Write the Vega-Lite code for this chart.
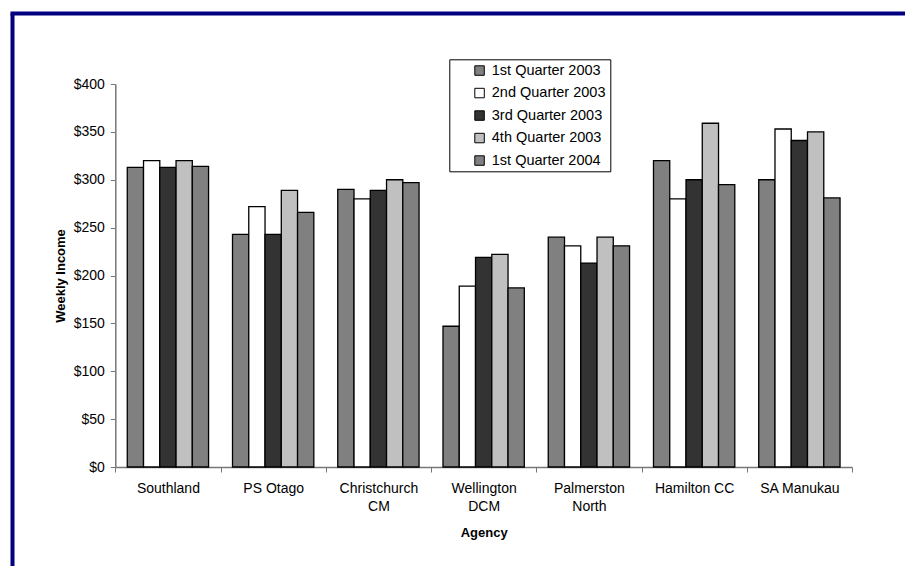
{
  "$schema": "https://vega.github.io/schema/vega-lite/v6.json",
  "autosize": {"type": "none"},
  "padding": {"left": 12, "top": 13, "right": 0, "bottom": 0},
  "width": 893,
  "height": 553,
  "background": "white",
  "view": {"stroke": null, "fill": "white"},
  "config": {
    "font": "Liberation Sans",
    "axis": {"labelFont": "Liberation Sans", "titleFont": "Liberation Sans", "labelColor": "black", "titleColor": "black"}
  },
  "data": {
    "values": [
      {"agency": "Southland", "quarter": "1st Quarter 2003", "income": 313},
      {"agency": "Southland", "quarter": "2nd Quarter 2003", "income": 320},
      {"agency": "Southland", "quarter": "3rd Quarter 2003", "income": 313},
      {"agency": "Southland", "quarter": "4th Quarter 2003", "income": 320},
      {"agency": "Southland", "quarter": "1st Quarter 2004", "income": 314},
      {"agency": "PS Otago", "quarter": "1st Quarter 2003", "income": 243},
      {"agency": "PS Otago", "quarter": "2nd Quarter 2003", "income": 272},
      {"agency": "PS Otago", "quarter": "3rd Quarter 2003", "income": 243},
      {"agency": "PS Otago", "quarter": "4th Quarter 2003", "income": 289},
      {"agency": "PS Otago", "quarter": "1st Quarter 2004", "income": 266},
      {"agency": "Christchurch CM", "quarter": "1st Quarter 2003", "income": 290},
      {"agency": "Christchurch CM", "quarter": "2nd Quarter 2003", "income": 280},
      {"agency": "Christchurch CM", "quarter": "3rd Quarter 2003", "income": 289},
      {"agency": "Christchurch CM", "quarter": "4th Quarter 2003", "income": 300},
      {"agency": "Christchurch CM", "quarter": "1st Quarter 2004", "income": 297},
      {"agency": "Wellington DCM", "quarter": "1st Quarter 2003", "income": 147},
      {"agency": "Wellington DCM", "quarter": "2nd Quarter 2003", "income": 189},
      {"agency": "Wellington DCM", "quarter": "3rd Quarter 2003", "income": 219},
      {"agency": "Wellington DCM", "quarter": "4th Quarter 2003", "income": 222},
      {"agency": "Wellington DCM", "quarter": "1st Quarter 2004", "income": 187},
      {"agency": "Palmerston North", "quarter": "1st Quarter 2003", "income": 240},
      {"agency": "Palmerston North", "quarter": "2nd Quarter 2003", "income": 231},
      {"agency": "Palmerston North", "quarter": "3rd Quarter 2003", "income": 213},
      {"agency": "Palmerston North", "quarter": "4th Quarter 2003", "income": 240},
      {"agency": "Palmerston North", "quarter": "1st Quarter 2004", "income": 231},
      {"agency": "Hamilton CC", "quarter": "1st Quarter 2003", "income": 320},
      {"agency": "Hamilton CC", "quarter": "2nd Quarter 2003", "income": 280},
      {"agency": "Hamilton CC", "quarter": "3rd Quarter 2003", "income": 300},
      {"agency": "Hamilton CC", "quarter": "4th Quarter 2003", "income": 359},
      {"agency": "Hamilton CC", "quarter": "1st Quarter 2004", "income": 295},
      {"agency": "SA Manukau", "quarter": "1st Quarter 2003", "income": 300},
      {"agency": "SA Manukau", "quarter": "2nd Quarter 2003", "income": 353},
      {"agency": "SA Manukau", "quarter": "3rd Quarter 2003", "income": 341},
      {"agency": "SA Manukau", "quarter": "4th Quarter 2003", "income": 350},
      {"agency": "SA Manukau", "quarter": "1st Quarter 2004", "income": 281}
    ]
  },
  "layer": [
    {
      "mark": {"type": "point", "opacity": 0},
      "encoding": {
        "x": {
          "field": "income",
          "type": "quantitative",
          "scale": {"domain": [0, 1], "range": [-2, 893], "nice": false, "zero": false},
          "axis": {"orient": "top", "domainColor": "#000080", "domainWidth": 4, "ticks": false, "labels": false, "grid": false, "title": null}
        },
        "y": {
          "field": "income",
          "type": "quantitative",
          "scale": {"domain": [0, 1], "range": [0, 553], "nice": false, "zero": false},
          "axis": {"orient": "left", "domainColor": "#000080", "domainWidth": 4, "ticks": false, "labels": false, "grid": false, "title": null}
        }
      }
    },
    {
      "mark": {"type": "bar", "stroke": "black", "strokeWidth": 1.3},
      "encoding": {
        "x": {
          "field": "agency",
          "type": "nominal",
          "sort": null,
          "title": "Agency",
          "scale": {"range": [103.3, 840], "paddingInner": 0, "paddingOuter": 0},
          "axis": {
            "orient": "bottom",
            "offset": -99,
            "labelAngle": 0,
            "labelFontSize": 14,
            "labelPadding": 9,
            "labelLineHeight": 18,
            "labelExpr": "length(datum.label) > 12 ? split(datum.label, ' ') : datum.label",
            "tickBand": "extent",
            "tickSize": 5,
            "tickColor": "#777",
            "domainColor": "#777",
            "domainWidth": 1.5,
            "titleFontSize": 13,
            "titleFontWeight": "bold",
            "titlePadding": 13
          }
        },
        "xOffset": {
          "field": "quarter",
          "type": "nominal",
          "sort": null,
          "scale": {"paddingInner": 0, "paddingOuter": 0.736}
        },
        "y": {
          "field": "income",
          "type": "quantitative",
          "title": "Weekly Income",
          "scale": {"domain": [0, 400], "range": [454, 71], "nice": false},
          "axis": {
            "orient": "left",
            "offset": -103.3,
            "values": [0, 50, 100, 150, 200, 250, 300, 350, 400],
            "format": "$.0f",
            "grid": false,
            "labelFontSize": 14,
            "labelPadding": 6,
            "tickSize": 5,
            "tickColor": "#777",
            "domainColor": "#777",
            "domainWidth": 1.5,
            "titleFontSize": 13,
            "titleFontWeight": "bold",
            "titlePadding": 6
          }
        },
        "color": {
          "field": "quarter",
          "type": "nominal",
          "sort": null,
          "scale": {
            "domain": ["1st Quarter 2003", "2nd Quarter 2003", "3rd Quarter 2003", "4th Quarter 2003", "1st Quarter 2004"],
            "range": ["#808080", "#ffffff", "#333333", "#c0c0c0", "#808080"]
          },
          "legend": {
            "title": null,
            "orient": "none",
            "legendX": 437.3,
            "legendY": 46.3,
            "fillColor": "white",
            "strokeColor": "black",
            "padding": 4,
            "symbolType": "square",
            "symbolSize": 90,
            "symbolStrokeColor": "black",
            "symbolStrokeWidth": 1,
            "symbolOffset": 19,
            "labelFont": "Liberation Sans",
            "labelFontSize": 14.5,
            "labelColor": "black",
            "labelOffset": 5,
            "rowPadding": 7.5
          }
        }
      }
    }
  ],
  "resolve": {"scale": {"x": "independent", "y": "independent"}, "axis": {"x": "independent", "y": "independent"}}
}
